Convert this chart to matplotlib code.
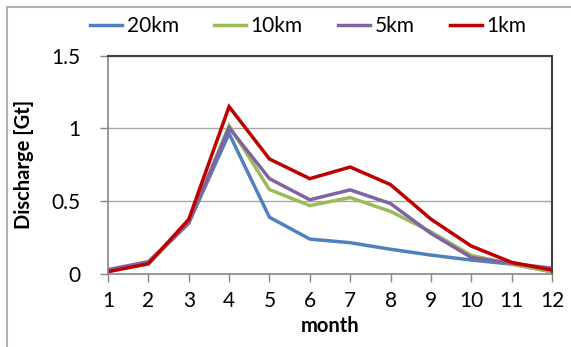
import matplotlib
matplotlib.use("Agg")
import matplotlib.pyplot as plt
from matplotlib.lines import Line2D
from matplotlib.patches import Rectangle

plt.rcParams['font.family'] = ['Lato', 'DejaVu Sans']

months = [1, 2, 3, 4, 5, 6, 7, 8, 9, 10, 11, 12]
km20 = [0.02, 0.075, 0.35, 0.965, 0.39, 0.24, 0.215, 0.17, 0.13, 0.096, 0.068, 0.016]
km10 = [0.02, 0.07, 0.35, 1.02, 0.58, 0.47, 0.525, 0.43, 0.29, 0.128, 0.068, 0.016]
km5 = [0.03, 0.085, 0.35, 1.005, 0.655, 0.51, 0.578, 0.484, 0.279, 0.114, 0.073, 0.04]
km1 = [0.016, 0.07, 0.375, 1.15, 0.79, 0.655, 0.735, 0.614, 0.377, 0.192, 0.08, 0.027]
labels = ['20km', '10km', '5km', '1km']
colors = ['#4F81BD', '#9BBB59', '#8064A2', '#C00000']
yticks = [0, 0.5, 1, 1.5]
ytick_labels = ['0', '0.5', '1', '1.5']

fig = plt.figure(figsize=(5.71, 3.47), dpi=100)
ax = fig.add_axes([108/571, 1 - 274/347, (552 - 108)/571, (274 - 55.7)/347])

for series, lab, c in zip([km20, km10, km5, km1], labels, colors):
    ax.plot(months, series, color=c, lw=2.5, label=lab, solid_joinstyle='miter')

ax.set_xlim(1, 12)
ax.set_ylim(0, 1.5)
ax.set_xticks(months)
ax.set_yticks(yticks)
ax.set_yticklabels(ytick_labels)
ax.yaxis.grid(True, color='#A6A6A6', lw=1.0)
ax.set_axisbelow(True)
ax.tick_params(axis='both', direction='out', length=6, width=1, color='#868686', labelsize=15)
ax.tick_params(axis='x', pad=6)
ax.tick_params(axis='y', pad=14)
for s in ['left', 'bottom']:
    ax.spines[s].set_color('#868686')
    ax.spines[s].set_linewidth(1.2)
for s in ['top', 'right']:
    ax.spines[s].set_color('#404040')
    ax.spines[s].set_linewidth(1.5)

ax.set_xlabel('month', fontsize=14.5, fontweight='bold', labelpad=4)
ax.set_ylabel('Discharge [Gt]', fontsize=14.5, fontweight='bold', labelpad=12)

handles = [Line2D([0], [0], color=c, lw=2.5) for c in colors]
fig.legend(handles, labels, loc='center', bbox_to_anchor=(0.54, 1 - 26/347), ncol=4,
           frameon=False, fontsize=15, handlelength=1.55, handletextpad=0.2,
           columnspacing=1.7)

fig.patches.append(Rectangle((7/571, -0.1), 1.2, 1 - 7/347 + 0.1, transform=fig.transFigure,
                             fill=False, edgecolor='#B0B0B0', lw=1.5))

fig.savefig('out.png', dpi=100)
